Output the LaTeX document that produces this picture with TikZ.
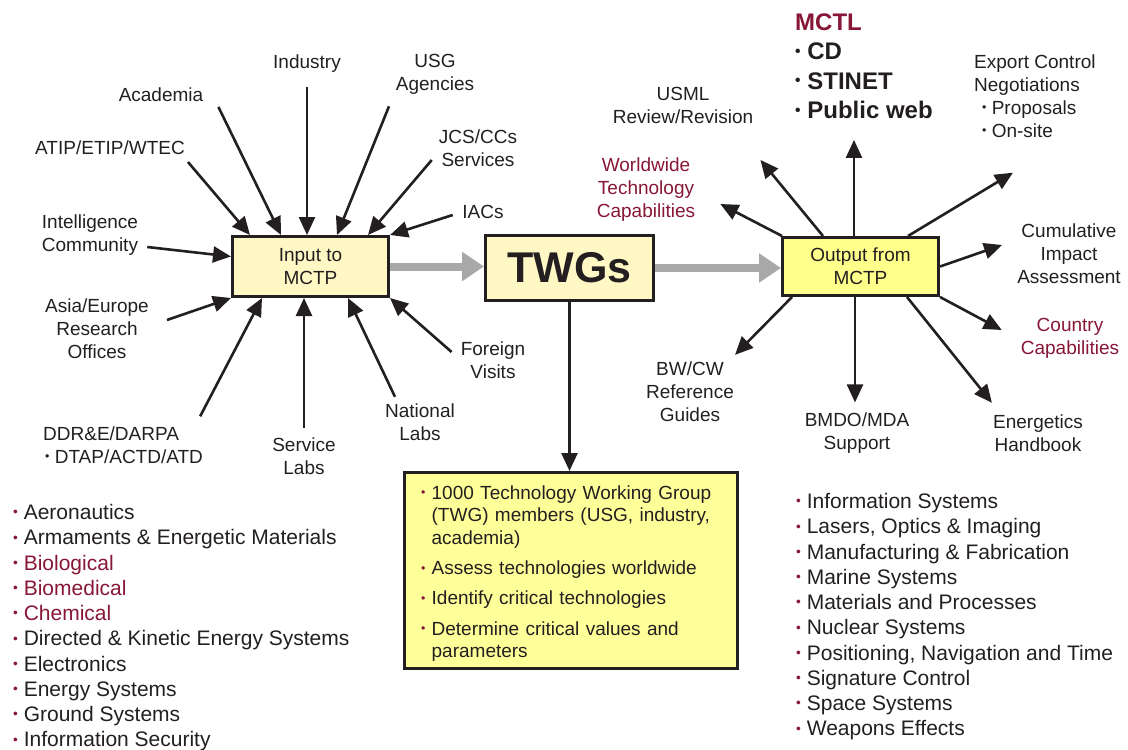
\documentclass[tikz,border=0pt]{standalone}
\usepackage{fontspec}
\setmainfont{Liberation Sans}
\usetikzlibrary{positioning,arrows.meta,calc}
\definecolor{ink}{RGB}{35,31,32}
\definecolor{mctred}{RGB}{135,22,55}
\definecolor{paleyel}{RGB}{255,248,196}
\definecolor{outyel}{RGB}{255,255,140}
\definecolor{boxyel}{RGB}{255,255,153}
\definecolor{flowgray}{RGB}{168,168,168}
\newcommand{\bul}{\raisebox{0.13em}{\scalebox{0.65}{\textbullet}}\ }
\newcommand{\rbul}{\textcolor{mctred}{\bul}}

\begin{document}
\begin{tikzpicture}[x=1pt,y=-1pt,
    lbl/.style={font=\fontsize{19}{23}\selectfont, text=ink, align=center, inner sep=0pt},
    mbox/.style={draw=ink, line width=3pt, inner sep=0pt, align=center, text=ink,
                 font=\fontsize{19}{23}\selectfont},
    item/.style={anchor=base west, inner sep=0pt, font=\fontsize{21}{25}\selectfont},
    arr/.style={draw=ink, line width=2.6pt, -{Triangle[length=18pt,width=16pt]}},
    flow/.style={draw=flowgray, line width=8pt, -{Triangle[length=22pt,width=28pt]}}]
    \useasboundingbox (0,0) rectangle (1128,750);

    % main boxes
    \node[mbox, fill=paleyel, minimum width=156pt, minimum height=60pt] (inbox) at (310.5,266.5) {Input to\\MCTP};
    \node[mbox, fill=paleyel, minimum width=168pt, minimum height=65pt,
          font=\fontsize{43}{50}\selectfont\bfseries] (twg) at (569.5,268) {TWGs};
    \node[mbox, fill=outyel, minimum width=156pt, minimum height=58pt] (outbox) at (860.5,266.5) {Output from\\MCTP};
    \node[mbox, fill=boxyel, text width=300pt, inner xsep=16.5pt, minimum height=196pt,
          align=left, font=\fontsize{19}{22.7}\selectfont] (tasks) at (571,570.5) {%
        \rule{0pt}{20pt}\rbul 1000 Technology Working Group\\
        \hphantom{\rbul}(TWG) members (USG, industry,\\
        \hphantom{\rbul}academia)\\[7.5pt]
        \rbul Assess technologies worldwide\\[7.5pt]
        \rbul Identify critical technologies\\[7.5pt]
        \rbul Determine critical values and\\
        \hphantom{\rbul}parameters};

    \draw[flow] (inbox.east) -- (inbox.east -| twg.west);
    \draw[flow] (twg.east) -- (twg.east -| outbox.west);
    \draw[arr] (twg.south) -- (twg.south |- tasks.north);

    % inputs
    \node[lbl] (industry) at (307,64) {Industry};
    \node[lbl] (academia) at (161,95) {Academia};
    \node[lbl] (usg) at (435,74) {USG\\Agencies};
    \node[lbl] (atip) at (110,148) {ATIP/ETIP/WTEC};
    \node[lbl] (jcs) at (478,148) {JCS/CCs\\Services};
    \node[lbl] (iacs) at (483,212) {IACs};
    \node[lbl] (intel) at (90,235) {Intelligence\\Community};
    \node[lbl] (asia) at (97,329) {Asia/Europe\\Research\\Offices};
    \node[lbl, align=left, anchor=west] (ddre) at (43,445) {DDR\&E/DARPA\\\hspace{2pt}\bul DTAP/ACTD/ATD};
    \node[lbl] (service) at (304,456) {Service\\Labs};
    \node[lbl] (national) at (420,422) {National\\Labs};
    \node[lbl] (foreign) at (493,360) {Foreign\\Visits};

    \draw[arr] ([shift={(3,14)}]atip.east) -- ([shift={(19,0)}]inbox.north west);
    \draw[arr] ([shift={(15,12)}]academia.east) -- ([shift={(50,0)}]inbox.north west);
    \draw[arr] ([shift={(0,14)}]industry.south) -- (industry |- inbox.north);
    \draw[arr] ([shift={(-46,12)}]usg.south) -- ([shift={(106,0)}]inbox.north west);
    \draw[arr] ([shift={(-7,12)}]jcs.west) -- ([shift={(137,0)}]inbox.north west);
    \draw[arr] ([shift={(-9.5,3)}]iacs.west) -- (inbox.north east);
    \draw[arr] ([shift={(9,12)}]intel.east) -- ([shift={(0,-10)}]inbox.west);
    \draw[arr] ([shift={(18,-9)}]asia.east) -- (inbox.south west);
    \draw[arr] ([shift={(-3,-10)}]ddre.north east) -- ([shift={(31,0)}]inbox.south west);
    \draw[arr] ([shift={(0,-9.5)}]service.north) -- (service |- inbox.south);
    \draw[arr] ([shift={(-25,-6.5)}]national.north) -- ([shift={(117,0)}]inbox.south west);
    \draw[arr] ([shift={(-9,-8)}]foreign.west) -- (inbox.south east);

    % outputs
    \node[lbl] (usml) at (683,105) {USML\\Review/Revision};
    \node[lbl, text=mctred] (world) at (646,190) {Worldwide\\Technology\\Capabilities};
    \node[anchor=west, align=left, inner sep=0pt, text=ink,
          font=\fontsize{24}{29.5}\selectfont\bfseries] (mctl) at (795,66)
          {\textcolor{mctred}{MCTL}\\\bul CD\\\bul STINET\\\bul Public web};
    \node[lbl, align=left, anchor=west] (export) at (974,96)
          {Export Control\\Negotiations\\\hspace{8pt}\bul Proposals\\\hspace{8pt}\bul On-site};
    \node[lbl] (cumul) at (1069,254) {Cumulative\\Impact\\Assessment};
    \node[lbl, text=mctred] (country) at (1070,338) {Country\\Capabilities};
    \node[lbl] (energ) at (1038,433) {Energetics\\Handbook};
    \node[lbl] (bmdo) at (857,433) {BMDO/MDA\\Support};
    \node[lbl] (bwcw) at (690,392) {BW/CW\\Reference\\Guides};

    \coordinate (mctlfoot) at ([shift={(-6.5,0)}]outbox.north);
    \draw[arr] ([shift={(1,0)}]outbox.north west) -- ([shift={(25,14)}]world.east);
    \draw[arr] ([shift={(42,0)}]outbox.north west) -- ([shift={(7,36.5)}]usml.south east);
    \draw[arr] (mctlfoot) -- ([yshift=-21pt]mctlfoot |- mctl.south);
    \draw[arr] ([shift={(127,0)}]outbox.north west) -- ([shift={(39,35)}]export.south west);
    \draw[arr] (outbox.east) -- ([shift={(-15,-9)}]cumul.west);
    \draw[arr] (outbox.south east) -- ([shift={(-19,-8)}]country.west);
    \draw[arr] ([shift={(126,0)}]outbox.south west) -- ([shift={(-1,-11.5)}]energ.north west);
    \draw[arr] ([shift={(-5.5,0)}]outbox.south) -- ([shift={(-2,-10)}]bmdo.north);
    \draw[arr] ([shift={(11,0)}]outbox.south west) -- ([shift={(1,-7)}]bwcw.north east);

    % technology areas
    \foreach \t/\c [count=\i] in {Aeronautics/ink, Armaments \& Energetic Materials/ink,
        Biological/mctred, Biomedical/mctred, Chemical/mctred,
        Directed \& Kinetic Energy Systems/ink, Electronics/ink, Energy Systems/ink,
        Ground Systems/ink, Information Security/ink}
        \node[item, text=\c] (techl\i) at (13,{519.5+25.25*(\i-1)}) {\rbul\t};
    \foreach \t [count=\i] in {Information Systems, {Lasers, Optics \& Imaging},
        Manufacturing \& Fabrication, Marine Systems, Materials and Processes,
        Nuclear Systems, {Positioning, Navigation and Time}, Signature Control,
        Space Systems, Weapons Effects}
        \node[item, text=ink] (techr\i) at (796,{508.5+25.25*(\i-1)}) {\rbul\t};
\end{tikzpicture}
\end{document}
